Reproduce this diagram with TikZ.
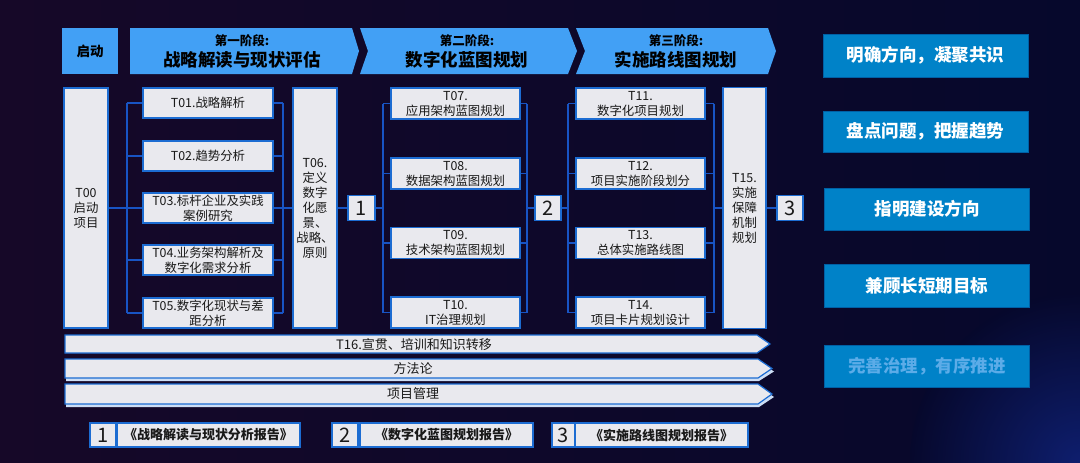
\documentclass[tikz,border=0pt]{standalone}
\usepackage{fontspec}
\setmainfont{Noto Sans CJK SC}
\definecolor{bgL}{RGB}{22,8,40}
\definecolor{bgR}{RGB}{6,8,44}
\definecolor{glow}{RGB}{14,30,110}
\definecolor{boxf}{RGB}{233,233,238}
\definecolor{bord}{RGB}{28,108,210}
\definecolor{lnc}{RGB}{24,84,196}
\definecolor{hdrf}{RGB}{66,160,245}
\definecolor{rbf}{RGB}{0,130,200}
\definecolor{rbd}{RGB}{0,96,165}
\definecolor{txt}{RGB}{25,25,25}
\definecolor{fade}{RGB}{92,172,232}
\definecolor{barsh}{RGB}{205,222,245}
\begin{document}
\begin{tikzpicture}[x=1pt,y=-1pt,
  bx/.style={draw=bord, fill=boxf, line width=1.3pt, inner sep=0pt, align=center, text=txt, font=\fontsize{12.4}{15}\selectfont},
  numbx/.style={bx, font=\fontsize{20}{20}\selectfont},
  hdr/.style={fill=hdrf},
  hsmall/.style={text=black, inner sep=0pt, font=\fontsize{12.5}{13}\selectfont\bfseries},
  hbig/.style={text=black, inner sep=0pt, font=\fontsize{17.5}{18}\selectfont\bfseries},
  conn/.style={draw=lnc, line width=1.3pt},
  rbx/.style={fill=rbf, draw=rbd, line width=0.8pt, text=white, inner sep=0pt, minimum width=205, font=\fontsize{17.5}{18}\selectfont\bfseries},
  barbox/.style={fill=boxf, draw=bord, line width=1.2pt},
  barshadow/.style={fill=barsh},
  btxt/.style={font=\fontsize{13}{13}\selectfont, text=txt, inner sep=0pt},
  rep/.style={bx, font=\fontsize{13}{13}\selectfont\bfseries, minimum height=24}
]
\useasboundingbox (0,0) rectangle (1080,463);
% background
\shade[left color=bgL, right color=bgR] (0,0) rectangle (1080,463);
\shade[inner color=glow, outer color=bgR] (1080,463) circle (170);
\fill[bgR] (0,-20) rectangle (1100,0);
\useasboundingbox (0,0) rectangle (1080,463);

% header
\node[hdr, minimum width=56, minimum height=46, inner sep=0pt, font=\fontsize{13.5}{14}\selectfont\bfseries] (qd) at (90,51) {启动};
\path[hdr] (130,28) -- (352,28) -- (359,51) -- (352,74) -- (130,74) -- cycle;
\path[hdr] (360,28) -- (568,28) -- (577,51) -- (568,74) -- (360,74) -- (368,51) -- cycle;
\path[hdr] (576,28) -- (768,28) -- (776,51) -- (768,74) -- (576,74) -- (585,51) -- cycle;
\node[hsmall] (p1a) at (242,41) {第一阶段:};
\node[hbig] (p1b) at (242,60) {战略解读与现状评估};
\node[hsmall] (p2a) at (467,41) {第二阶段:};
\node[hbig] (p2b) at (467,60) {数字化蓝图规划};
\node[hsmall] (p3a) at (676,41) {第三阶段:};
\node[hbig] (p3b) at (676,60) {实施路线图规划};

% bracket coordinates
\coordinate (b1) at (127,208);
\coordinate (b2) at (283,208);
\coordinate (b3) at (383,208);
\coordinate (b4) at (527,208);
\coordinate (b5) at (568,208);
\coordinate (b6) at (714,208);

% boxes
\node[bx, minimum width=44, minimum height=240] (T00) at (86,208) {T00\\启动\\项目};
\node[bx, minimum width=130, minimum height=30] (T01) at (208,103) {T01.战略解析};
\node[bx, minimum width=130, minimum height=30] (T02) at (208,156) {T02.趋势分析};
\node[bx, minimum width=130, minimum height=30] (T03) at (208,208) {T03.标杆企业及实践\\案例研究};
\node[bx, minimum width=130, minimum height=30] (T04) at (208,260) {T04.业务架构解析及\\数字化需求分析};
\node[bx, minimum width=130, minimum height=30] (T05) at (208,313) {T05.数字化现状与差\\距分析};
\node[bx, minimum width=44, minimum height=240] (T06) at (315,208) {T06.\\定义\\数字\\化愿\\景、\\战略、\\原则};
\node[numbx, minimum width=27, minimum height=25] (n1) at (361.5,208) {1};
\node[bx, minimum width=129, minimum height=31] (T07) at (455.5,103.5) {T07.\\应用架构蓝图规划};
\node[bx, minimum width=129, minimum height=31] (T08) at (455.5,173.5) {T08.\\数据架构蓝图规划};
\node[bx, minimum width=129, minimum height=31] (T09) at (455.5,243) {T09.\\技术架构蓝图规划};
\node[bx, minimum width=129, minimum height=31] (T10) at (455.5,312.5) {T10.\\IT治理规划};
\node[numbx, minimum width=26, minimum height=25] (n2) at (548,208) {2};
\node[bx, minimum width=129, minimum height=31] (T11) at (640.5,103.5) {T11.\\数字化项目规划};
\node[bx, minimum width=129, minimum height=31] (T12) at (640.5,173.5) {T12.\\项目实施阶段划分};
\node[bx, minimum width=129, minimum height=31] (T13) at (640.5,243) {T13.\\总体实施路线图};
\node[bx, minimum width=129, minimum height=31] (T14) at (640.5,312.5) {T14.\\项目卡片规划设计};
\node[bx, minimum width=43, minimum height=241] (T15) at (744.5,208) {T15.\\实施\\保障\\机制\\规划};
\node[numbx, minimum width=26, minimum height=25] (n3) at (790,208) {3};

% connectors
\draw[conn] (T00.east) -- (T00.east -| b1);
\draw[conn] (T01.west -| b1) -- (T05.west -| b1);
\foreach \n in {T01,T02,T03,T04,T05} {
  \draw[conn] (\n.west -| b1) -- (\n.west);
  \draw[conn] (\n.east) -- (\n.east -| b2);
}
\draw[conn] (T01.east -| b2) -- (T05.east -| b2);
\draw[conn] (T06.west -| b2) -- (T06.west);
\draw[conn] (T06.east) -- (n1.west);
\draw[conn] (n1.east) -- (n1.east -| b3);
\draw[conn] (T07.west -| b3) -- (T10.west -| b3);
\foreach \n in {T07,T08,T09,T10} {
  \draw[conn] (\n.west -| b3) -- (\n.west);
  \draw[conn] (\n.east) -- (\n.east -| b4);
}
\draw[conn] (T07.east -| b4) -- (T10.east -| b4);
\draw[conn] (n2.west -| b4) -- (n2.west);
\draw[conn] (n2.east) -- (n2.east -| b5);
\draw[conn] (T11.west -| b5) -- (T14.west -| b5);
\foreach \n in {T11,T12,T13,T14} {
  \draw[conn] (\n.west -| b5) -- (\n.west);
  \draw[conn] (\n.east) -- (\n.east -| b6);
}
\draw[conn] (T11.east -| b6) -- (T14.east -| b6);
\draw[conn] (T15.west -| b6) -- (T15.west);
\draw[conn] (T15.east) -- (n3.west);

% bars
\path[barshadow] (66,362) -- (759,362) -- (774,371.5) -- (759,381) -- (66,381) -- cycle;
\path[barshadow] (66,387) -- (759,387) -- (774,397) -- (759,407) -- (66,407) -- cycle;
\path[barbox] (65,335) -- (757,335) -- (770,344) -- (757,353) -- (65,353) -- cycle;
\path[barbox] (65,359) -- (758,359) -- (772,368.5) -- (758,378) -- (65,378) -- cycle;
\path[barbox] (65,384) -- (758,384) -- (772,394) -- (758,404) -- (65,404) -- cycle;
\node[btxt] (bar1) at (414,344.5) {T16.宣贯、培训和知识转移};
\node[btxt] (bar2) at (413,369) {方法论};
\node[btxt] (bar3) at (413,394) {项目管理};

% reports
\node[numbx, minimum width=26, minimum height=24] (r1n) at (103,435) {1};
\node[rep, minimum width=183] (r1) at (208.5,435) {《战略解读与现状分析报告》};
\node[numbx, minimum width=26, minimum height=24] (r2n) at (345,435) {2};
\node[rep, minimum width=173] (r2) at (446.5,435) {《数字化蓝图规划报告》};
\node[numbx, minimum width=23, minimum height=24] (r3n) at (563.5,435) {3};
\node[rep, minimum width=173] (r3) at (661.5,435) {《实施路线图规划报告》};

% right boxes
\node[rbx, minimum height=43] (g1) at (925.5,55.5) {明确方向，凝聚共识};
\node[rbx, minimum height=41] (g2) at (925.5,131.5) {盘点问题，把握趋势};
\node[rbx, minimum height=42] (g3) at (927,209) {指明建设方向};
\node[rbx, minimum height=43] (g4) at (927,285.5) {兼顾长短期目标};
\node[rbx, minimum height=42, text=fade] (g5) at (927,366) {完善治理，有序推进};
\end{tikzpicture}
\end{document}
